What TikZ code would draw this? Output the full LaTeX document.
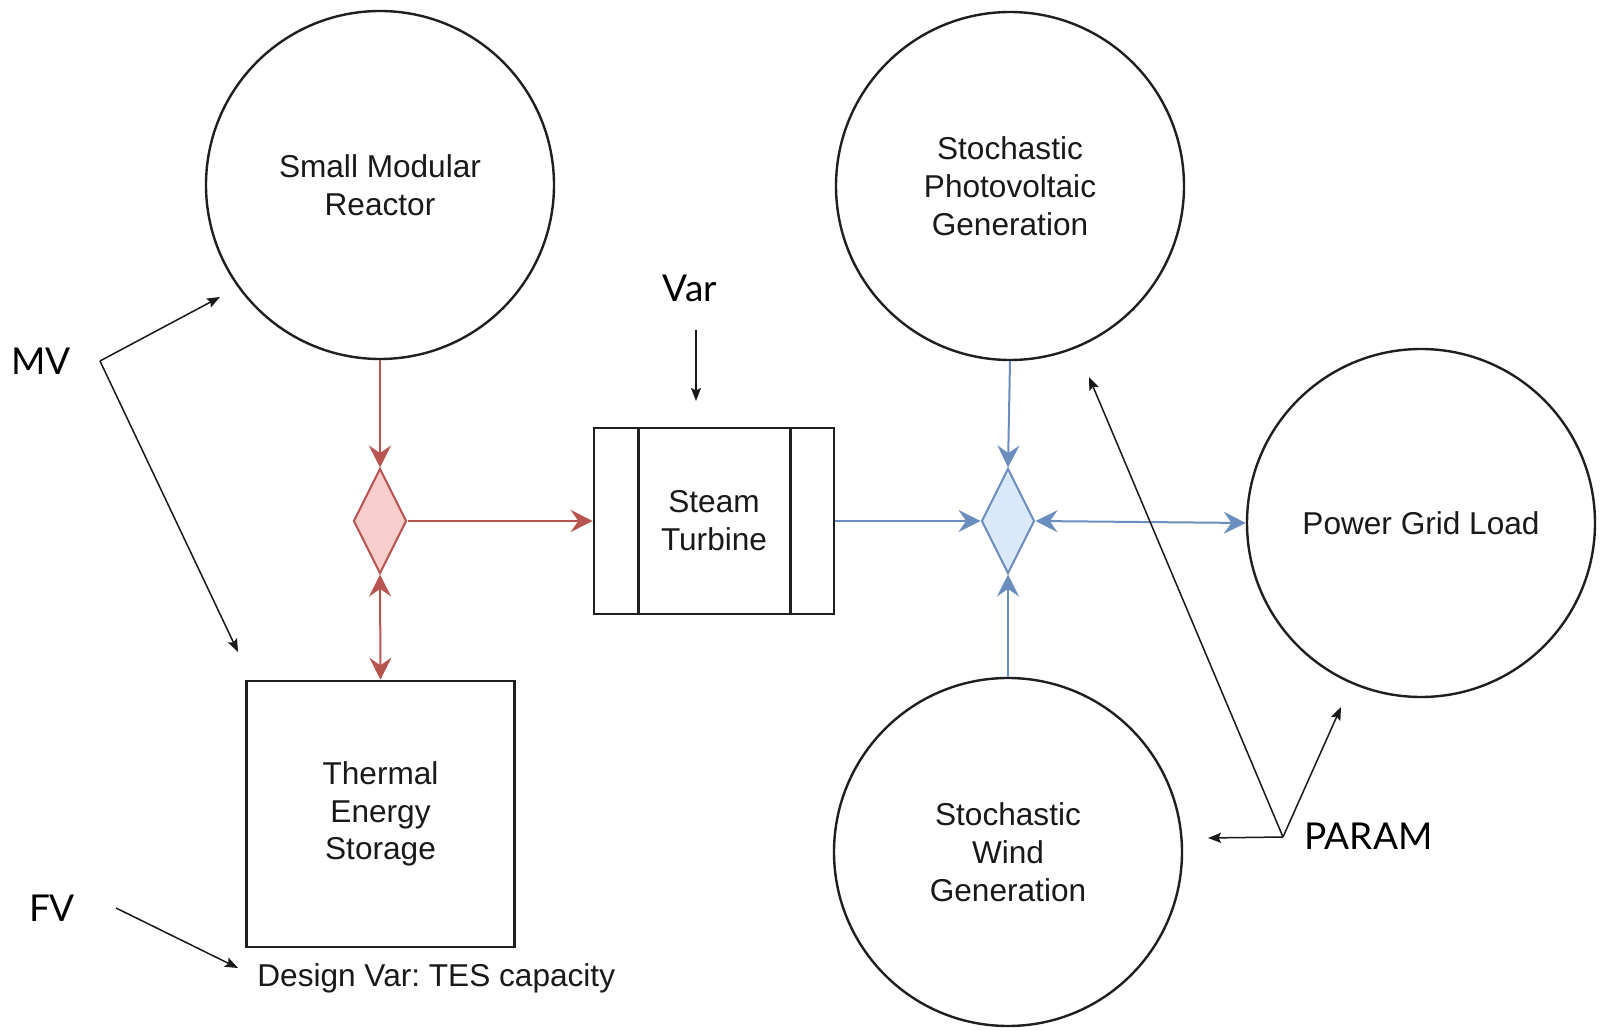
\documentclass[tikz,border=0pt]{standalone}
\usepackage{fontspec}
\setmainfont{Liberation Sans}
\newfontfamily\latofont{Lato}
\usetikzlibrary{shapes.geometric,arrows.meta}
\definecolor{redline}{HTML}{B85450}
\definecolor{redfill}{HTML}{F8CECC}
\definecolor{blueline}{HTML}{6C8EBF}
\definecolor{bluefill}{HTML}{DAE8FC}
\frenchspacing
\begin{document}
\begin{tikzpicture}[x=0.5pt,y=-0.5pt,
  lbl/.style={font=\fontsize{15.8}{18.9}\selectfont, align=center, text=black!90},
  circ/.style={circle, draw=black!88, line width=1.2pt, minimum size=174pt, inner sep=0pt, lbl},
  boxnode/.style={rectangle, draw=black!88, line width=1.3pt, inner sep=0pt, lbl},
  rdiam/.style={diamond, draw=redline, fill=redfill, line width=1pt, minimum width=26.5pt, minimum height=52.5pt, inner sep=0pt},
  bdiam/.style={diamond, draw=blueline, fill=bluefill, line width=1pt, minimum width=26.5pt, minimum height=52.5pt, inner sep=0pt},
  tipc/.tip={Stealth[length=11pt,width=11pt,inset=3.8pt]},
  redarrow/.style={draw=redline, line width=1pt, -tipc},
  redboth/.style={draw=redline, line width=1pt, tipc-tipc},
  bluearrow/.style={draw=blueline, line width=1pt, -tipc},
  blueboth/.style={draw=blueline, line width=1pt, tipc-tipc},
  ann/.style={font=\latofont\fontsize{18.5}{22}\selectfont, text=black, inner sep=0pt},
  annarrow/.style={draw=black!90, line width=0.75pt, -{Stealth[length=6.5pt,width=5pt,inset=1.2pt]}}
]
\useasboundingbox (0,0) rectangle (1602,1031);
\fill[white] (0,0) rectangle (1602,1031);

% main nodes
\node[circ] (smr) at (380,185) {Small Modular\\Reactor};
\node[circ] (pv) at (1010,186) {Stochastic\\Photovoltaic\\Generation};
\node[circ] (grid) at (1421,523) {Power Grid Load};
\node[circ] (wind) at (1008,852) {Stochastic\\Wind\\Generation};
\node[boxnode, minimum width=134pt, minimum height=133pt] (tes) at (380.5,814) {Thermal\\Energy\\Storage};
\node[boxnode, minimum width=120pt, minimum height=93pt] (turb) at (714,521) {Steam\\Turbine};
\draw[black!88, line width=1.3pt] ([xshift=23pt]turb.north west) -- ([xshift=23pt]turb.south west);
\draw[black!88, line width=1.3pt] ([xshift=-22.5pt]turb.north east) -- ([xshift=-22.5pt]turb.south east);
\node[rdiam] (rd) at (380,521) {};
\node[bdiam] (bd) at (1008,521) {};
\node[lbl, anchor=west, inner sep=0pt] (dv) at (257,978) {Design Var: TES capacity};

% flows
\draw[redarrow] (smr.south) -- (rd.north);
\draw[redarrow] (rd.east) -- (turb.west);
\draw[redboth] (rd.south) -- (tes.north);
\draw[bluearrow] (turb.east) -- (bd.west);
\draw[bluearrow] (pv.south) -- (bd.north);
\draw[bluearrow] (wind.north) -- (bd.south);
\draw[blueboth] (bd.east) -- (grid.west);

% annotations
\node[ann] (mv) at (41,361) {MV};
\coordinate (mvv) at (100,361);
\coordinate (mva) at (220,297);
\coordinate (mvb) at (238,652);
\draw[annarrow] (mvv) -- (mva);
\draw[annarrow] (mvv) -- (mvb);

\node[ann] (var) at (690,288) {Var};
\coordinate (vara) at (696,330);
\coordinate (varb) at (696,401);
\draw[annarrow] (vara) -- (varb);

\node[ann] (fv) at (52,908) {FV};
\coordinate (fva) at (116,908);
\coordinate (fvb) at (238,968);
\draw[annarrow] (fva) -- (fvb);

\node[ann, anchor=west] (param) at (1304,836) {PARAM};
\coordinate (pv0) at (1283,837);
\coordinate (pa) at (1208,838);
\coordinate (pb) at (1089,377);
\coordinate (pc) at (1341,707);
\draw[annarrow] (pv0) -- (pa);
\draw[annarrow] (pv0) -- (pb);
\draw[annarrow] (pv0) -- (pc);
\end{tikzpicture}
\end{document}
